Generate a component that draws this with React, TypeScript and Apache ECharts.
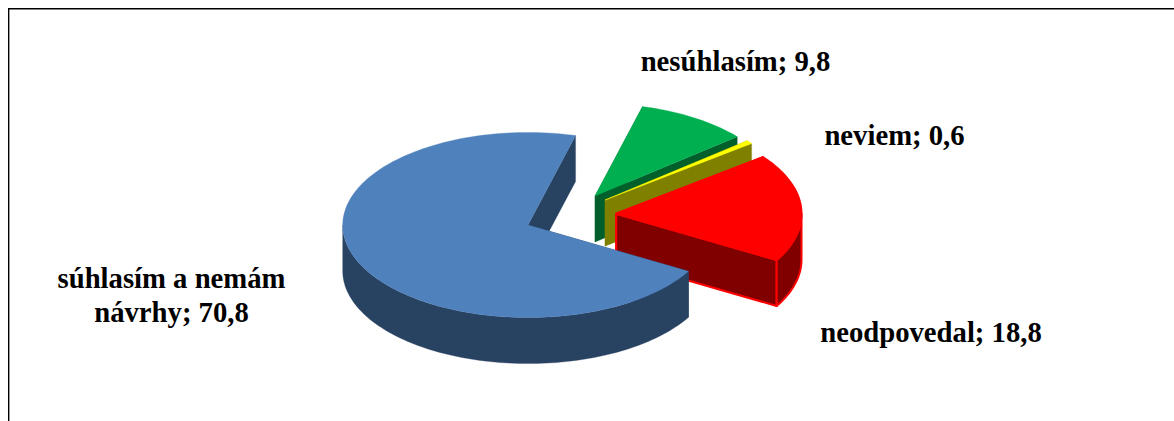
import React, { useEffect, useRef } from "react";
import * as echarts from "echarts";

// Drawn back to front, clockwise from the first slice's start angle.
const categories = ["nesúhlasím", "neviem", "neodpovedal", "súhlasím a nemám\nnávrhy"];
const values = [9.8, 0.6, 18.8, 70.8];

const topColors = ["#00B050", "#FFFF00", "#FF0000", "#4F81BD"];
const wallColors = ["#005F2B", "#808000", "#800000", "#284262"];
const strokeColors = ["#00B050", "#FFFF00", "#FF0000", "#4F81BD"];
const strokeWidths = [0.3, 0.5, 2, 0.3];
const wallStrokes = [0, 0, 2, 0];

const centers = [[595, 196], [605, 200], [616.2, 213.7], [528, 225]];
const labelPos = [[735.5, 61], [894.5, 135], [931, 332], [171.5, 295]];

const RX = 185.3;
const RY = 92.6;
const DEPTH = 46;
const START_ANGLE = 14.88;
const total = values.reduce((a, b) => a + b, 0);

const pt = (c: number[], deg: number, down = 0) => {
  const t = (deg * Math.PI) / 180;
  return [c[0] + RX * Math.sin(t), c[1] - RY * Math.cos(t) + down];
};

const arc = (c: number[], a: number, b: number, down = 0) => {
  const n = Math.max(2, Math.ceil((b - a) / 1.5));
  const pts: number[][] = [];
  for (let i = 0; i <= n; i++) pts.push(pt(c, a + ((b - a) * i) / n, down));
  return pts;
};

const renderItem = (params: any, api: any) => {
  const i = params.dataIndex;
  const v = api.value(0);
  const before = values.slice(0, i).reduce((s, x) => s + x, 0);
  const a = START_ANGLE + (before / total) * 360;
  const b = a + (v / total) * 360;
  const c = centers[i];
  const wallStyle = {
    fill: wallColors[i],
    stroke: wallStrokes[i] ? strokeColors[i] : wallColors[i],
    lineWidth: wallStrokes[i] || 0.3,
    lineJoin: "round",
  };
  const children: any[] = [];
  const cut = (deg: number) => ({
    type: "polygon",
    shape: { points: [c, pt(c, deg), pt(c, deg, DEPTH), [c[0], c[1] + DEPTH]] },
    style: wallStyle,
    silent: true,
  });
  children.push(cut(a), cut(b));
  const fa = Math.max(a, 90);
  const fb = Math.min(b, 270);
  if (fb > fa) {
    children.push({
      type: "polygon",
      shape: { points: [...arc(c, fa, fb), ...arc(c, fa, fb, DEPTH).reverse()] },
      style: wallStyle,
      silent: true,
    });
  }
  children.push({
    type: "polygon",
    shape: { points: [c, ...arc(c, a, b)] },
    style: {
      fill: topColors[i],
      stroke: strokeColors[i],
      lineWidth: strokeWidths[i],
      lineJoin: "round",
    },
    silent: true,
  });
  children.push({
    type: "text",
    x: labelPos[i][0],
    y: labelPos[i][1],
    silent: true,
    style: {
      text: `${categories[i]}; ${v.toFixed(1).replace(".", ",")}`,
      fill: "#000000",
      font: 'bold 28.7px "Liberation Serif"',
      align: "center",
      verticalAlign: "middle",
      lineHeight: 34,
    },
  });
  return { type: "group", children };
};

export default function App() {
  const ref = useRef<HTMLDivElement>(null);
  useEffect(() => {
    const chart = echarts.init(ref.current!, undefined, { renderer: "svg" });
    chart.setOption({
      animation: false,
      backgroundColor: "#FFFFFF",
      graphic: [
        { type: "rect", silent: true, shape: { x: 8, y: 8, width: 1.4, height: 413 }, style: { fill: "#000" } },
        { type: "rect", silent: true, shape: { x: 8, y: 8, width: 1166, height: 1.4 }, style: { fill: "#000" } },
      ],
      series: [
        {
          type: "custom",
          coordinateSystem: "none",
          silent: true,
          renderItem,
          data: values.map((v, i) => ({ name: categories[i], value: [v] })),
        },
      ],
    });
    return () => chart.dispose();
  }, []);
  return (
    <div
      ref={ref}
      style={{ position: "absolute", left: 0, top: 0, width: 1174, height: 421 }}
    />
  );
}
